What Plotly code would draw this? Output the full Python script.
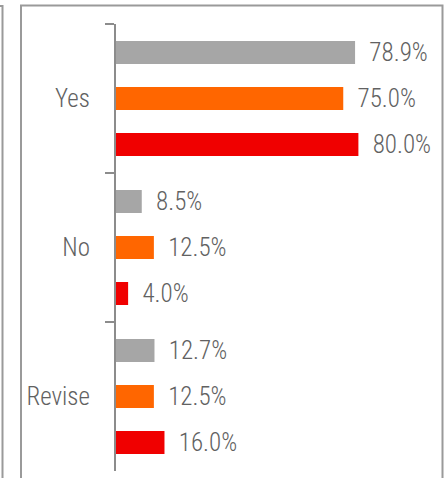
import plotly.graph_objects as go

# Response categories (top to bottom) and the three series shown in each group
categories = ["Yes", "No", "Revise"]
series_names = ["Series 1", "Series 2", "Series 3"]
series_values = [
    [78.9, 8.5, 12.7],   # gray
    [75.0, 12.5, 12.5],  # orange
    [80.0, 4.0, 16.0],   # red
]
series_colors = ["#a6a6a6", "#ff6600", "#f00000"]

FONT = "Liberation Sans Narrow, Roboto Condensed, Arial Narrow, Roboto, sans-serif"
TEXT_COLOR = "#616161"
AXIS_COLOR = "#8c8c8c"
FRAME_COLOR = "#9a9a9a"

W, H = 444, 478
M_L, M_R, M_T, M_B = 116, 25, 24, 7
PW = W - M_L - M_R
PH = H - M_T - M_B


def px_x(px):
    return (px - M_L) / PW


def px_y(py):
    return (H - M_B - py) / PH


fig = go.Figure()
for name, vals, color in zip(series_names, series_values, series_colors):
    fig.add_trace(go.Bar(
        name=name,
        y=categories,
        x=vals,
        orientation="h",
        marker=dict(color=color, line=dict(width=0)),
        text=vals,
        texttemplate="\u00a0\u00a0%{x:.1f}%",
        textposition="outside",
        constraintext="none",
        cliponaxis=False,
        textfont=dict(family=FONT, size=25, color=TEXT_COLOR, weight=300),
    ))

# Panel frame lines
shapes = [
    dict(type="rect", xref="paper", yref="paper",
         x0=px_x(21), x1=px_x(442.5), y0=px_y(5.5), y1=px_y(520),
         line=dict(color=FRAME_COLOR, width=2), fillcolor="rgba(0,0,0,0)", layer="below"),
    dict(type="rect", xref="paper", yref="paper",
         x0=px_x(-40), x1=px_x(2.5), y0=px_y(6), y1=px_y(520),
         line=dict(color=FRAME_COLOR, width=2), fillcolor="rgba(0,0,0,0)", layer="below"),
]

fig.update_layout(
    width=W, height=H,
    margin=dict(l=M_L, r=M_R, t=M_T, b=M_B, pad=0),
    paper_bgcolor="white", plot_bgcolor="white",
    barmode="group", bargap=0.074, bargroupgap=0.5,
    showlegend=False,
    shapes=shapes,
    xaxis=dict(visible=False, range=[0, 100]),
    yaxis=dict(
        autorange="reversed",
        showline=True, linecolor=AXIS_COLOR, linewidth=2,
        ticks="outside", tickson="boundaries", ticklen=9, tickwidth=2, tickcolor=AXIS_COLOR,
        ticklabelstandoff=19,
        showgrid=False, zeroline=False,
        tickfont=dict(family=FONT, size=25, color=TEXT_COLOR, weight=300),
    ),
)

fig.write_html("out.html")
